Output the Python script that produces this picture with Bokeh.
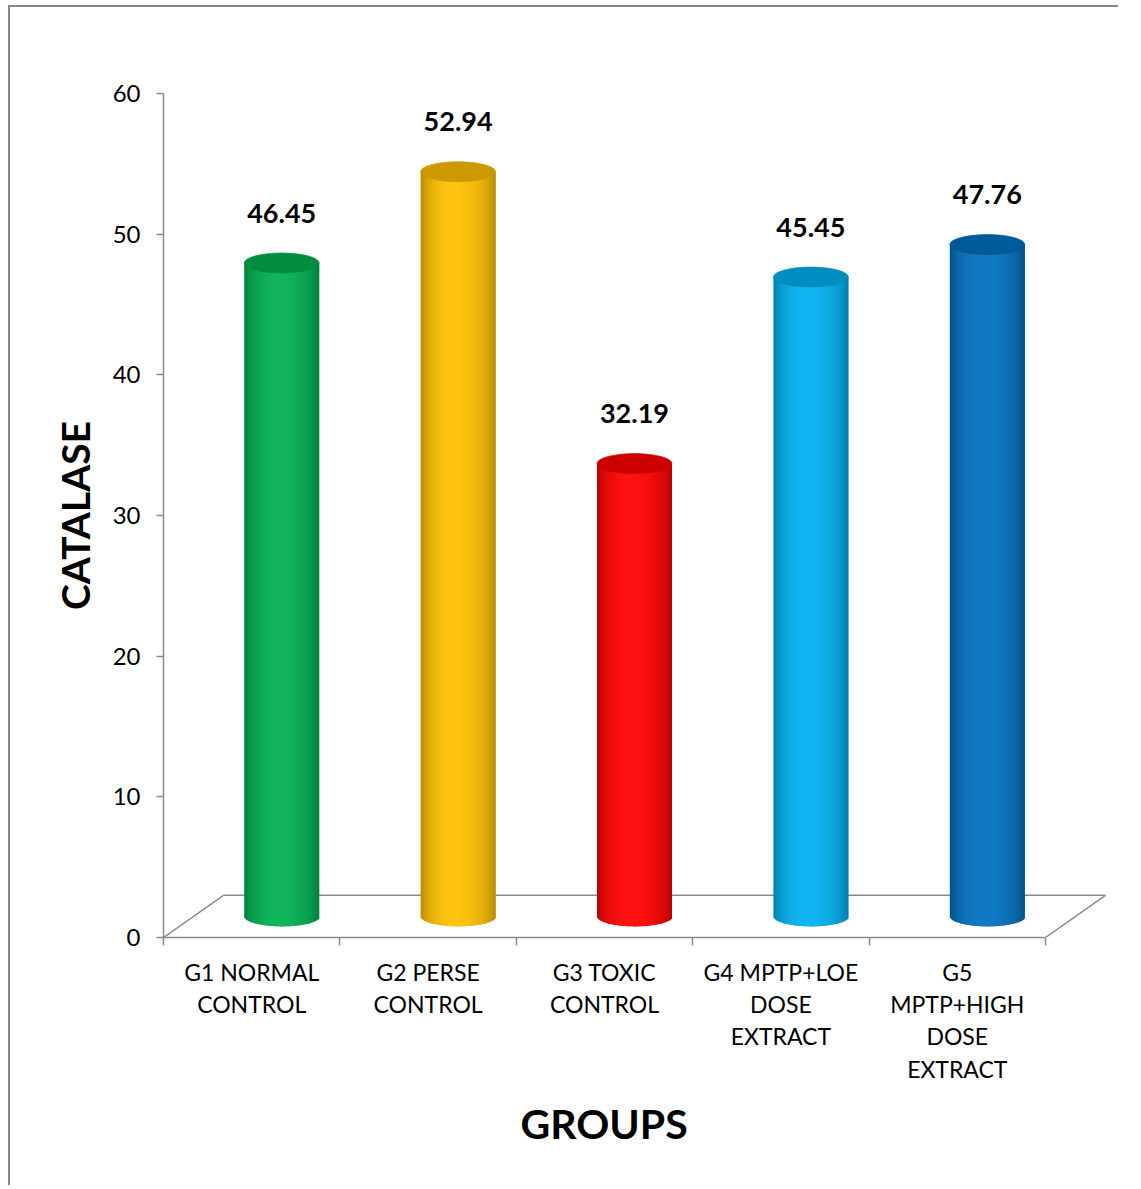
import numpy as np
from bokeh.plotting import figure
from bokeh.models import Range1d, FixedTicker, ColumnDataSource, Title
from bokeh.core.properties import value
from bokeh.embed import file_html
from bokeh.resources import INLINE

# ---- data -------------------------------------------------------------
groups = [
    "G1 NORMAL\nCONTROL",
    "G2 PERSE\nCONTROL",
    "G3 TOXIC\nCONTROL",
    "G4 MPTP+LOE\nDOSE\nEXTRACT",
    "G5\nMPTP+HIGH\nDOSE\nEXTRACT",
]
catalase = [46.45, 52.94, 32.19, 45.45, 47.76]
bar_colors = ["#00B050", "#FFC000", "#FF0000", "#00B0F0", "#0070C0"]
y_ticks = [0, 10, 20, 30, 40, 50, 60]

# ---- 3-D look ------------------------------------------------------------
DEPTH_X = 0.34      # floor depth, x data units
DEPTH_Y = 3.0       # floor depth, y data units
BAR_W = 0.425       # cylinder diameter (x units)
CAP_H = 1.42        # ellipse height of the cylinder ends (y units)
N_STRIPS = 80
AXIS_GREY = "#8a8a8a"
FONT = "Lato"

n = len(catalase)


def hex_to_rgb(h):
    h = h.lstrip("#")
    return np.array([int(h[i:i + 2], 16) for i in (0, 2, 4)], dtype=float)


def rgb_to_hex(c):
    c = np.clip(np.round(c), 0, 255).astype(int)
    return "#%02x%02x%02x" % tuple(c)


def shade(base, t):
    """Horizontal shading across a cylinder, t in [0, 1]."""
    peak = 0.45
    if t < peak:
        w = 1 - ((peak - t) / peak) ** 2
    else:
        w = 1 - ((t - peak) / (1 - peak)) ** 2
    w = max(w, 0.0) ** 0.7
    edge = base * 0.7
    hi = base + (255 - base) * 0.07
    return edge + (hi - edge) * w


# body strips of every cylinder (each strip overlaps its right neighbour)
strip = dict(left=[], right=[], bottom=[], top=[], color=[])
cap = dict(x=[], y=[], color=[])
lab = dict(x=[], y=[], text=[])
for i, (v, col) in enumerate(zip(catalase, bar_colors)):
    base = hex_to_rgb(col)
    cx = i + 0.5 + DEPTH_X / 2
    y0 = DEPTH_Y / 2
    y1 = v + DEPTH_Y / 2
    edges = np.linspace(cx - BAR_W / 2, cx + BAR_W / 2, N_STRIPS + 1)
    for k in range(N_STRIPS):
        l = edges[k]
        r = edges[min(k + 2, N_STRIPS)]
        m = (edges[k] + edges[k + 1]) / 2
        u = (m - cx) / (BAR_W / 2)
        strip["left"].append(l)
        strip["right"].append(r)
        strip["bottom"].append(y0 - CAP_H / 2 * np.sqrt(max(0.0, 1 - u * u)))
        strip["top"].append(y1)
        strip["color"].append(rgb_to_hex(shade(base, (k + 0.5) / N_STRIPS)))
    cap["x"].append(cx)
    cap["y"].append(y1)
    cap["color"].append(rgb_to_hex(base * 0.8))
    lab["x"].append(cx)
    lab["y"].append(y1)
    lab["text"].append("%.2f" % v)

# ---- figure ----------------------------------------------------------------
# frame: x 0..5 spans 882 px, y 0..60 spans 844 px
FRAME_L, FRAME_T, FRAME_B, FRAME_R = 153, 86, 930, 1106
W, H = 1110, 1180
x_end = 5 * (FRAME_R - FRAME_L) / 882.0

p = figure(
    width=W, height=H,
    x_range=Range1d(0, x_end), y_range=Range1d(0, 60),
    output_backend="svg", toolbar_location=None,
    min_border_left=FRAME_L, min_border_top=FRAME_T,
    min_border_bottom=H - FRAME_B, min_border_right=W - FRAME_R,
    background_fill_color="white", border_fill_color="white",
)
p.margin = (7, 0, 0, 10)
p.styles = {"box-shadow": "-2px -2px 0 0 #888888"}
p.outline_line_color = None
p.grid.visible = False

# x axis: category boundaries as minor ticks, labels at the centres
xa = p.xaxis[0]
xa.ticker = FixedTicker(ticks=[i + 0.5 for i in range(n)], minor_ticks=list(range(n + 1)))
xa.major_label_overrides = {i + 0.5: g for i, g in enumerate(groups)}
xa.bounds = (0, n)
xa.axis_line_color = AXIS_GREY
xa.axis_line_width = 1.5
xa.major_tick_line_color = None
xa.major_tick_out = 0
xa.major_tick_in = 0
xa.minor_tick_line_color = AXIS_GREY
xa.minor_tick_line_width = 1.5
xa.minor_tick_out = 8
xa.minor_tick_in = 0
xa.major_label_standoff = 12
xa.major_label_text_font = FONT
xa.major_label_text_font_size = "23px"
xa.major_label_text_color = "black"
xa.major_label_text_line_height = 1.16

ya = p.yaxis[0]
ya.ticker = FixedTicker(ticks=y_ticks)
ya.bounds = (0, 60)
ya.axis_line_color = AXIS_GREY
ya.axis_line_width = 1.5
ya.major_tick_line_color = AXIS_GREY
ya.major_tick_line_width = 1.5
ya.major_tick_out = 7
ya.major_tick_in = 0
ya.minor_tick_line_color = None
ya.major_label_standoff = 16
ya.major_label_text_font = FONT
ya.major_label_text_font_size = "24px"
ya.major_label_text_color = "black"
ya.axis_label = "CATALASE"
ya.axis_label_text_font = FONT
ya.axis_label_text_font_style = "bold"
ya.axis_label_text_font_size = "39px"
ya.axis_label_text_color = "black"
ya.axis_label_standoff = 12

# x axis title, placed under the five categories
p.add_layout(Title(
    text="GROUPS", align="left", offset=357, standoff=22,
    text_font=FONT, text_font_style="bold", text_font_size="41px",
    text_color="black",
), "below")

# floor of the 3-D plot area
p.segment(
    x0=[0, DEPTH_X, n], y0=[0, DEPTH_Y, 0],
    x1=[DEPTH_X, n + DEPTH_X, n + DEPTH_X], y1=[DEPTH_Y, DEPTH_Y, DEPTH_Y],
    line_color=AXIS_GREY, line_width=1.5,
)

# cylinders
p.quad(left="left", right="right", bottom="bottom", top="top",
       fill_color="color", line_color=None,
       source=ColumnDataSource(strip))
p.ellipse(x="x", y="y", width=BAR_W, height=CAP_H,
          fill_color="color", line_color="color", line_width=0.7,
          source=ColumnDataSource(cap))

# value labels
p.text(x="x", y="y", text="text", source=ColumnDataSource(lab),
       text_font=value(FONT), text_font_style="bold", text_font_size="27px",
       text_color="black", text_align="center", text_baseline="middle",
       y_offset=-50)

open("out.html", "w").write(file_html(p, INLINE))
